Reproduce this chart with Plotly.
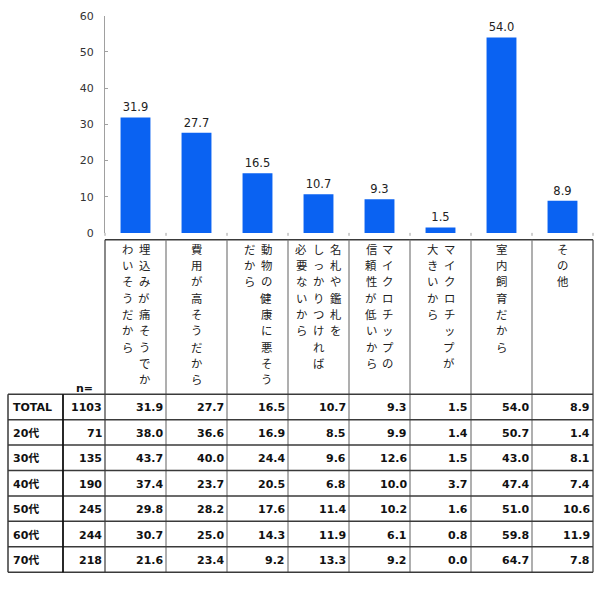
import plotly.graph_objects as go

# ---------------- data ----------------
label_columns = [
    ["埋込みが痛そうでか", "わいそうだから"],
    ["費用が高そうだから"],
    ["動物の健康に悪そう", "だから"],
    ["名札や鑑札を", "しっかりつければ", "必要ないから"],
    ["マイクロチップの", "信頼性が低いから"],
    ["マイクロチップが", "大きいから"],
    ["室内飼育だから"],
    ["その他"],
]
categories = ["".join(c) for c in label_columns]
total_values = [31.9, 27.7, 16.5, 10.7, 9.3, 1.5, 54.0, 8.9]

row_labels = ["TOTAL", "20代", "30代", "40代", "50代", "60代", "70代"]
row_n = [1103, 71, 135, 190, 245, 244, 218]
table_values = [
    [31.9, 27.7, 16.5, 10.7, 9.3, 1.5, 54.0, 8.9],
    [38.0, 36.6, 16.9, 8.5, 9.9, 1.4, 50.7, 1.4],
    [43.7, 40.0, 24.4, 9.6, 12.6, 1.5, 43.0, 8.1],
    [37.4, 23.7, 20.5, 6.8, 10.0, 3.7, 47.4, 7.4],
    [29.8, 28.2, 17.6, 11.4, 10.2, 1.6, 51.0, 10.6],
    [30.7, 25.0, 14.3, 11.9, 6.1, 0.8, 59.8, 11.9],
    [21.6, 23.4, 9.2, 13.3, 9.2, 0.0, 64.7, 7.8],
]
y_ticks = [0, 10, 20, 30, 40, 50, 60]

# ---------------- layout geometry (pixels) ----------------
W, H = 600, 589
def px(x):
    return x / W
def py(y):
    return 1 - y / H

X0 = 105          # left of first category column
COLW = 61         # category column width
XR = X0 + COLW * 8  # right edge of table
TL = 8            # table left
NDIV = 63         # divider between row label and n
HEAD_TOP = 239
TABLE_TOP = 397
ROWH = 26
TABLE_BOT = TABLE_TOP + ROWH * len(row_labels)
Y_ZERO = 232
Y_TOP = 10
CHAR_Y0 = 248     # centre of first vertical character
CHAR_STEP = 16.7  # vertical step between characters
COL_STEP = 17     # horizontal step between vertical text columns

BLUE = "#0a62f2"
DARK = "#3a3a3a"
GRAY = "#7a7a7a"

fig = go.Figure()
fig.add_trace(go.Bar(
    x=categories, y=total_values,
    marker=dict(color=BLUE, line=dict(width=0)),
    width=0.49,
    text=[f"{v:.1f}" for v in total_values],
    textposition="outside",
    textfont=dict(family="DejaVu Sans", size=11.5, color="#222"),
    cliponaxis=False,
    hoverinfo="skip",
))

shapes = []
def line(x0, y0, x1, y1, color=DARK, w=1.5):
    shapes.append(dict(type="line", xref="paper", yref="paper",
                       x0=px(x0), y0=py(y0), x1=px(x1), y1=py(y1),
                       line=dict(color=color, width=w)))

# small x-axis tick marks at category boundaries
for i in range(9):
    xx = X0 + COLW * i
    line(xx, Y_ZERO, xx, Y_ZERO + 3, "#a0a0a0", 1)
# header box
line(X0, HEAD_TOP, XR, HEAD_TOP, DARK, 1.5)
for i in range(9):
    xx = X0 + COLW * i
    col = DARK if i in (0, 8) else GRAY
    line(xx, HEAD_TOP, xx, TABLE_BOT, col, 1.2)
# table horizontals
for r in range(len(row_labels) + 1):
    yy = TABLE_TOP + ROWH * r
    line(TL, yy, XR, yy, DARK, 1.5)
line(TL, TABLE_TOP, TL, TABLE_BOT, DARK, 1.5)
line(NDIV, TABLE_TOP, NDIV, TABLE_BOT, "#111", 1.8)

annotations = []
# vertical category labels (one glyph per annotation, right-to-left columns)
for i, cols in enumerate(label_columns):
    cx = X0 + COLW * (i + 0.5)
    k = len(cols)
    for j, seg in enumerate(cols):
        off = ((k - 1) / 2 - j) * COL_STEP
        for m, ch in enumerate(seg):
            annotations.append(dict(
                xref="paper", yref="paper",
                x=px(cx + off), y=py(CHAR_Y0 + m * CHAR_STEP),
                xanchor="center", yanchor="middle", showarrow=False,
                borderpad=0, borderwidth=0,
                text=ch,
                font=dict(family="Noto Sans CJK JP", size=11.4, color="#222"),
            ))

BOLD = dict(family="DejaVu Sans, Noto Sans CJK JP", size=11, color="#111", weight="bold")
annotations.append(dict(xref="paper", yref="paper", x=px(84), y=py(391),
                        xanchor="center", yanchor="middle", showarrow=False,
                        text="n=", font=BOLD))
for r, lab in enumerate(row_labels):
    cy = TABLE_TOP + ROWH * (r + 0.5) + 1
    annotations.append(dict(xref="paper", yref="paper", x=px(TL + 3), y=py(cy),
                            xanchor="left", yanchor="middle", showarrow=False,
                            text=lab, font=BOLD))
    annotations.append(dict(xref="paper", yref="paper", x=px(X0 - 1), y=py(cy),
                            xanchor="right", yanchor="middle", showarrow=False,
                            text=str(row_n[r]), font=BOLD))
    for c, v in enumerate(table_values[r]):
        annotations.append(dict(xref="paper", yref="paper",
                                x=px(X0 + COLW * (c + 1) - 1), y=py(cy),
                                xanchor="right", yanchor="middle", showarrow=False,
                                text=f"{v:.1f}", font=BOLD))

fig.update_layout(
    width=W, height=H,
    margin=dict(l=0, r=0, t=0, b=0),
    paper_bgcolor="white", plot_bgcolor="white",
    showlegend=False,
    bargap=0.5,
    xaxis=dict(domain=[px(X0), px(XR)], type="category", range=[-0.5, 7.5],
               showticklabels=False, showgrid=False, zeroline=False,
               showline=False, ticks=""),
    yaxis=dict(domain=[py(Y_ZERO), py(Y_TOP)], range=[0, 60],
               tickvals=y_ticks, showgrid=False, zeroline=False,
               showline=True, linecolor="#a0a0a0", linewidth=1,
               ticks="inside", ticklen=3, tickcolor="#a0a0a0",
               ticklabelstandoff=8,
               tickfont=dict(family="DejaVu Sans", size=11, color="#333")),
    shapes=shapes,
    annotations=annotations,
)

fig.write_html("out.html")
